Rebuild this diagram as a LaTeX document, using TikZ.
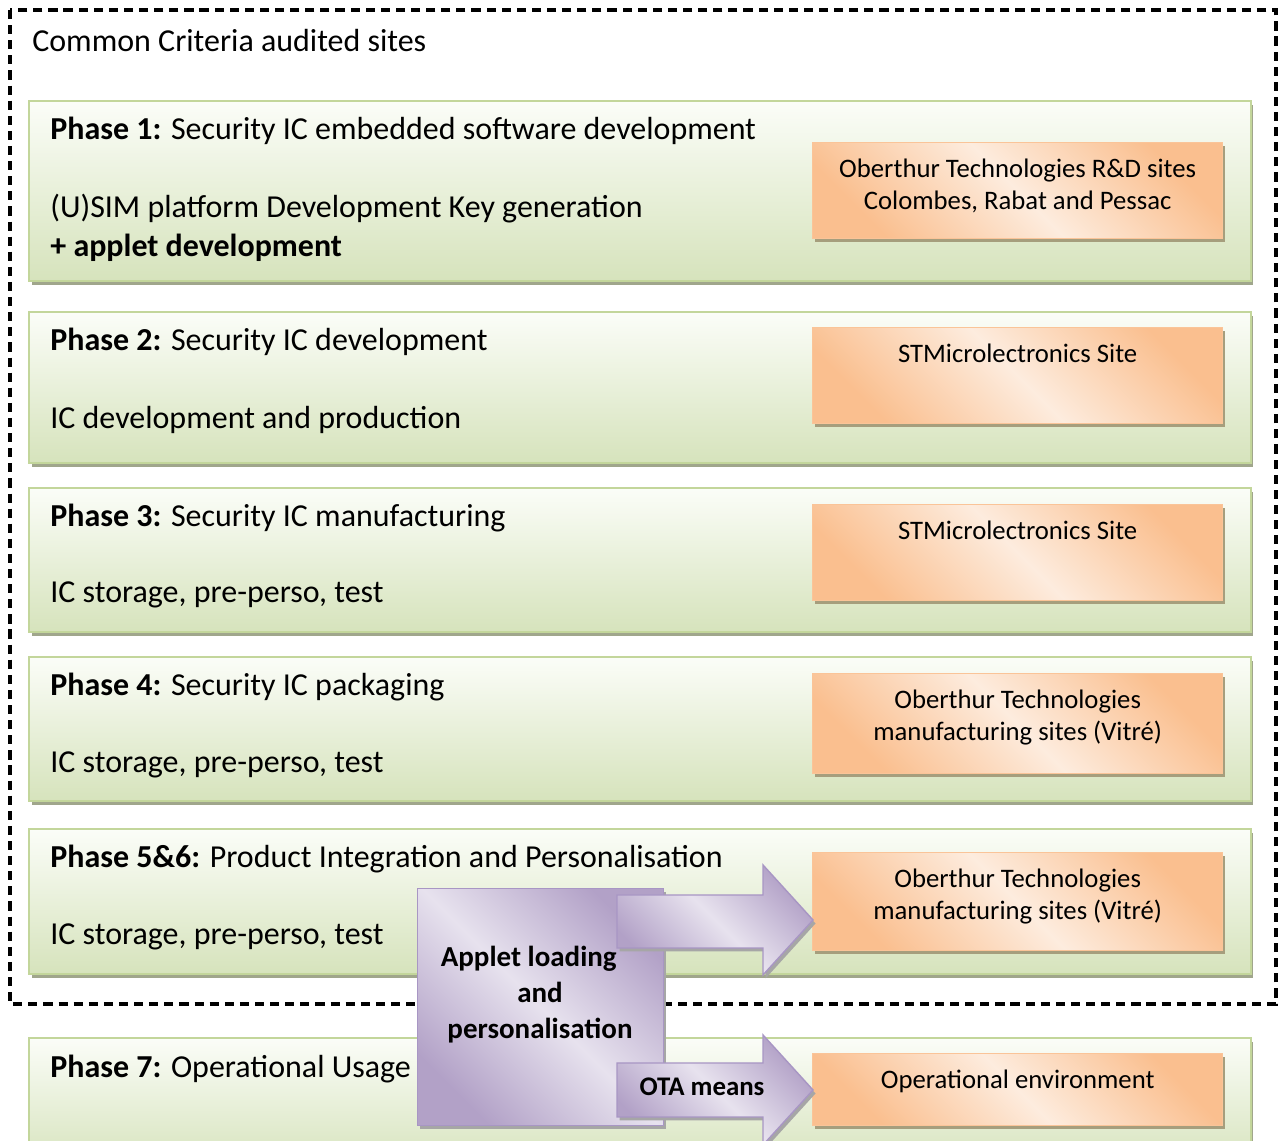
\documentclass[tikz,border=0pt]{standalone}
\usepackage{fontspec}
\setmainfont{Carlito}
\usetikzlibrary{shadows,positioning}

\definecolor{phasetop}{RGB}{251,253,248}
\definecolor{phasebottom}{RGB}{214,227,188}
\definecolor{phaseborder}{RGB}{195,214,155}
\definecolor{sitedark}{RGB}{250,191,143}
\definecolor{sitelight}{RGB}{253,236,222}
\definecolor{siteborder}{RGB}{250,196,152}
\definecolor{persodark}{RGB}{178,161,199}
\definecolor{persolight}{RGB}{231,226,238}
\definecolor{persoborder}{RGB}{168,150,196}
\definecolor{shadowgray}{RGB}{160,166,140}

\begin{document}
\begin{tikzpicture}[x=0.02cm, y=-0.02cm]
	\tikzstyle{phase} = [anchor=north west, inner sep=0pt, minimum width=24.44cm, draw=phaseborder, line width=1.2pt, top color=phasetop, bottom color=phasebottom, drop shadow={shadow xshift=0.05cm, shadow yshift=-0.07cm, fill=shadowgray, opacity=1}]
	\tikzstyle{site}  = [anchor=north west, inner sep=0pt, minimum width=8.2cm, draw=siteborder, line width=0.8pt, left color=sitedark, right color=sitedark, middle color=sitelight, shading angle=135, drop shadow={shadow xshift=0.05cm, shadow yshift=-0.07cm, fill=shadowgray!80!brown, opacity=1}]
	\tikzstyle{perso} = [draw=persoborder, line width=0.8pt, left color=persodark, right color=persodark, middle color=persolight, shading angle=135, drop shadow={shadow xshift=0.05cm, shadow yshift=-0.07cm, fill=gray!70, opacity=1}]
	\tikzstyle{phasetext} = [anchor=west, inner sep=0pt, align=left, font=\fontsize{18.2}{22}\selectfont]
	\tikzstyle{sitetext}  = [anchor=north, inner sep=0pt, align=center, font=\fontsize{15.2}{18}\selectfont]
	\tikzstyle{persotext} = [inner sep=0pt, align=center, font=\fontsize{16.5}{20.5}\selectfont\bfseries]

	\useasboundingbox (0,0) rectangle (1279,1141);

	% audited sites frame
	\draw[line width=1.8pt, dash pattern=on 5.2pt off 3.4pt] (10,10) rectangle (1276,1004);
	\node[phasetext] (cc) at (32,41) {Common Criteria audited sites};

	% phases and the sites where they run
	\foreach \name/\y/\h/\sy/\sh in {p1/100/3.6/142/1.92, p2/311/3.02/327/1.92, p3/487/2.88/504/1.92, p4/656/2.88/673/2.0, p5/828/2.9/852/1.96, p7/1037/2.6/1053/1.44}
	{
		\node[phase, minimum height=\h cm] (\name) at (28,\y) {};
		\node[site, minimum height=\sh cm] (\name site) at (812,\sy) {};
	}

	\node[phasetext] (t1) at (50,131) {\textbf{Phase 1:} Security IC embedded software development};
	\node[phasetext] (d1) at (50,228) {(U)SIM platform Development Key generation\\\textbf{+ applet development}};
	\node[phasetext] (t2) at (50,342) {\textbf{Phase 2:} Security IC development};
	\node[phasetext] (d2) at (50,420) {IC development and production};
	\node[phasetext] (t3) at (50,518) {\textbf{Phase 3:} Security IC manufacturing};
	\node[phasetext] (d3) at (50,595) {IC storage, pre-perso, test};
	\node[phasetext] (t4) at (50,687) {\textbf{Phase 4:} Security IC packaging};
	\node[phasetext] (d4) at (50,765) {IC storage, pre-perso, test};
	\node[phasetext] (t5) at (50,859) {\textbf{Phase 5\&6:} Product Integration and Personalisation};
	\node[phasetext] (d5) at (50,937) {IC storage, pre-perso, test};
	\node[phasetext] (t7) at (50,1069) {\textbf{Phase 7:} Operational Usage};

	\node[sitetext, below=0.34cm of p1site.north] (s1) {Oberthur Technologies R\&D sites\\Colombes, Rabat and Pessac};
	\node[sitetext, below=0.34cm of p2site.north] (s2) {STMicrolectronics Site};
	\node[sitetext, below=0.34cm of p3site.north] (s3) {STMicrolectronics Site};
	\node[sitetext, below=0.34cm of p4site.north] (s4) {Oberthur Technologies\\manufacturing sites (Vitré)};
	\node[sitetext, below=0.34cm of p5site.north] (s5) {Oberthur Technologies\\manufacturing sites (Vitré)};
	\node[sitetext, below=0.34cm of p7site.north] (s7) {Operational environment};

	% loading and personalisation, with its two block arrows
	\node[perso, anchor=north west, inner sep=0pt, minimum width=4.92cm, minimum height=4.74cm] (load) at (417,888) {};
	\node[persotext] (loadtext) at (540,995) {Applet loading\hspace*{0.45cm}\\and\\personalisation};

	\draw[perso] (617,895) -- (763,895) -- (763,865) -- (813,920) -- (763,975) -- (763,948) -- (617,948) -- cycle;
	\draw[perso] (617,1063) -- (763,1063) -- (763,1035) -- (813,1090) -- (763,1145) -- (763,1117) -- (617,1117) -- cycle;
	\node[persotext, font=\fontsize{15.3}{18}\selectfont\bfseries] (ota) at (702,1087) {OTA means};
\end{tikzpicture}
\end{document}
